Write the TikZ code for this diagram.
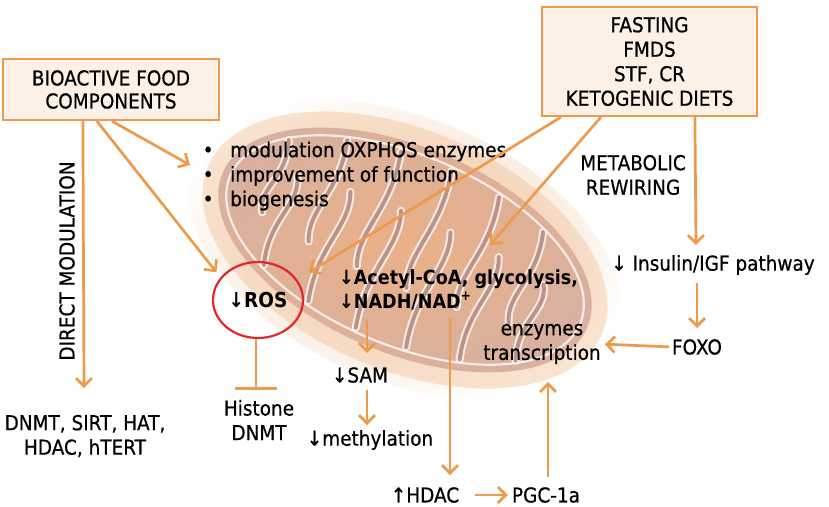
\documentclass[tikz,border=0pt]{standalone}
\usepackage{fontspec}
\setmainfont{DejaVu Sans}[FakeStretch=0.9, UprightFeatures={FakeBold=0.6}]
\usetikzlibrary{arrows.meta,shapes.geometric}
\definecolor{org}{HTML}{EE9A4D}
\definecolor{boxfill}{HTML}{FDF0E6}
\definecolor{rosred}{HTML}{E3262B}
\definecolor{mitoout}{HTML}{F0C49C}
\definecolor{mitoin}{HTML}{BC8377}
\definecolor{mitocore}{HTML}{E49A6A}
\begin{document}
\begin{tikzpicture}[x=1pt,y=-1pt,
  font=\fontsize{20.5}{24.5}\selectfont,
  arr/.style={draw=org, line width=2.7pt, -{Straight Barb[length=8pt,width=16pt]}},
  inh/.style={draw=org, line width=2.7pt, -{Bar[width=42pt]}},
  box/.style={draw=org, fill=boxfill, line width=2.2pt, align=center, inner sep=0pt},
  lbl/.style={align=center, inner sep=0pt},
  crista/.style={white, opacity=0.75, double=mitoin!90!black, double distance=4pt, line width=2pt, line cap=round}]
\useasboundingbox (0,0) rectangle (829,506);
% mitochondrion (background picture)
\begin{scope}[shift={(405,250)}, rotate=-23]
  \shade[inner color=mitoout, outer color=white, opacity=0.85] (0,0) ellipse [x radius=228pt, y radius=132pt];
  \fill[mitoout, opacity=0.45] (0,0) ellipse [x radius=214pt, y radius=120pt];
  \shade[inner color=mitocore, outer color=mitoin, opacity=0.5] (0,0) ellipse [x radius=198pt, y radius=103pt];
  \draw[white, opacity=0.75, line width=2.2pt] (0,0) ellipse [x radius=190pt, y radius=95pt];
  \foreach \u in {-150,-96,-42,12,66,120} {
    \pgfmathsetmacro\e{91*sqrt(1-(\u/190)^2)}
    \draw[crista] (\u,-\e) .. controls (\u+14,-0.35*\e) and (\u-10,0) .. (\u+4,0.38*\e);
  }
  \foreach \u in {-124,-69,-15,39,93,145} {
    \pgfmathsetmacro\e{91*sqrt(1-(\u/190)^2)}
    \draw[crista] (\u,\e) .. controls (\u-14,0.35*\e) and (\u+10,0) .. (\u-4,-0.38*\e);
  }
\end{scope}
% boxes
\node[box, minimum width=216pt, minimum height=61pt] (bio) at (111,89.5) {BIOACTIVE FOOD\\[-1.5pt]COMPONENTS};
\node[box, minimum width=215pt, minimum height=109pt] (fast) at (649.5,61.5) {FASTING\\FMDS\\STF, CR\\KETOGENIC DIETS};
% texts
\node[lbl, rotate=90] (dmlbl) at (67,261) {DIRECT MODULATION};
\node[lbl] (dnmt) at (85,436) {DNMT, SIRT, HAT,\\HDAC, hTERT};
\node[lbl, align=left, anchor=west] (bul) at (202,176)
  {\makebox[28pt][l]{\hspace{0.5pt}•}modulation OXPHOS enzymes\\
   \makebox[28pt][l]{\hspace{0.5pt}•}improvement of function\\
   \makebox[28pt][l]{\hspace{0.5pt}•}biogenesis};
\node[ellipse, draw=rosred, line width=2.2pt, minimum width=90pt, minimum height=76pt, inner sep=0pt, font=\fontsize{20.5}{24.5}\selectfont\bfseries] (ros) at (258,300) {↓ROS};
\node[lbl] (hist) at (259,420) {Histone\\DNMT};
\node[lbl, align=left, anchor=west, font=\fontsize{19.5}{24}\selectfont\bfseries] (acet) at (339,290) {↓Acetyl-CoA, glycolysis,\\↓NADH/NAD\textsuperscript{+}};
\node[lbl] (sam) at (360,375) {↓SAM};
\node[lbl] (meth) at (370,440) {↓methylation};
\node[lbl] (hdac) at (425,495) {↑HDAC};
\node[lbl] (pgc) at (546,495) {PGC-1a};
\node[lbl] (enz) at (542,344) {enzymes\\transcription};
\node[lbl] (metab) at (633,175) {METABOLIC\\REWIRING};
\node[lbl] (ins) at (713,265) {↓ Insulin/IGF pathway};
\node[lbl] (foxo) at (697,347) {FOXO};
% free ends
\coordinate (bulTip) at (190,165);
\coordinate (dmEnd) at (84,388);
\coordinate (acetTip) at (490,245);
\coordinate (insTip) at (696,245);
\coordinate (insOut) at (697,283);
\coordinate (foxoIn) at (697,328);
\coordinate (acetOut) at (367,320);
\coordinate (samIn) at (367,353);
\coordinate (samOut) at (367,390);
\coordinate (methIn) at (367,425);
\coordinate (nadOut) at (450,318);
\coordinate (hdacIn) at (450,475);
\coordinate (pgcOut) at (548,477);
\coordinate (enzIn) at (548,382);
\coordinate (histBar) at (256,390);
% connectors
\draw[arr] ([xshift=81pt]bio.south west) -- (dmEnd);
\draw[arr] ([xshift=110pt]bio.south west) -- (bulTip);
\draw[arr] ([xshift=95pt]bio.south west) -- ([xshift=-5pt,yshift=4pt]ros.147);
\draw[arr] ([xshift=20pt]fast.south west) -- ([xshift=12pt,yshift=7pt]ros.28);
\draw[arr] ([xshift=60pt]fast.south west) -- (acetTip);
\draw[arr] ([xshift=154pt]fast.south west) -- (insTip);
\draw[arr] (insOut) -- (foxoIn);
\draw[arr, shorten <=3pt, shorten >=4pt] (foxo.west) -- (enz.east);
\draw[arr] (acetOut) -- (samIn);
\draw[arr] (samOut) -- (methIn);
\draw[arr] (nadOut) -- (hdacIn);
\draw[arr, shorten <=16pt, shorten >=4pt] (hdac.east) -- (pgc.west);
\draw[arr] (pgcOut) -- (enzIn);
\draw[inh] (ros.south -| histBar) -- (histBar);
\end{tikzpicture}
\end{document}
